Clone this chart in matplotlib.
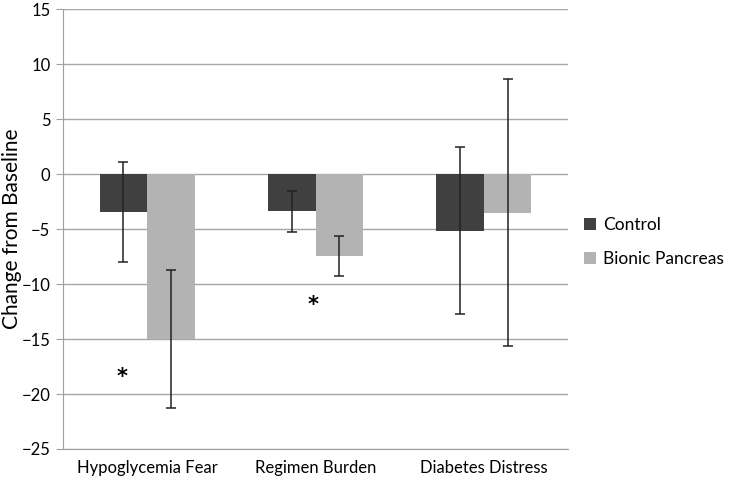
import numpy as np
import matplotlib.pyplot as plt

plt.rcParams['font.family'] = ['Lato', 'DejaVu Sans']

categories = ['Hypoglycemia Fear', 'Regimen Burden', 'Diabetes Distress']
series = ['Control', 'Bionic Pancreas']
control_mean = [-3.45, -3.4, -5.15]
control_err = [4.55, 1.83, 7.6]
bionic_mean = [-15.0, -7.45, -3.5]
bionic_err = [6.3, 1.85, 12.1]
colors = ['#404040', '#b3b3b3']

# significance markers: (x position, y value)
star_x = [-0.15, 0.985]
star_y = [-18.45, -11.9]

fig = plt.figure(figsize=(7.35, 4.8), dpi=100)
ax = fig.add_axes([0.0857, 0.0646, 0.6873, 0.9165])

x = np.arange(len(categories))
w = 0.282
ax.bar(x - w / 2, control_mean, w, color=colors[0], label=series[0], zorder=2)
ax.bar(x + w / 2, bionic_mean, w, color=colors[1], label=series[1], zorder=2)
ax.errorbar(x - w / 2, control_mean, yerr=control_err, fmt='none', ecolor='#222222',
            elinewidth=1.1, capsize=3.5, capthick=1.1, zorder=3)
ax.errorbar(x + w / 2, bionic_mean, yerr=bionic_err, fmt='none', ecolor='#222222',
            elinewidth=1.1, capsize=3.5, capthick=1.1, zorder=3)

for sx, sy in zip(star_x, star_y):
    ax.text(sx, sy, '*', ha='center', va='center', fontsize=15, fontweight='bold',
            color='black', family='DejaVu Sans')

ax.set_xlim(-0.5, 2.5)
ax.set_ylim(-25, 15)
ax.set_yticks(np.arange(-25, 16, 5))
ax.set_xticks(x)
ax.set_xticklabels(categories, fontsize=12)
ax.tick_params(axis='y', labelsize=12, length=5, color='#a0a0a0', pad=4)
ax.tick_params(axis='x', length=0, pad=8)
ax.yaxis.grid(True, color='#a6a6a6', linewidth=1, zorder=0)
ax.set_axisbelow(True)
for s in ['top', 'right']:
    ax.spines[s].set_visible(False)
ax.spines['left'].set_color('#a0a0a0')
ax.spines['bottom'].set_color('#a0a0a0')
ax.set_ylabel('Change from Baseline', fontsize=15)
ax.yaxis.set_label_coords(-0.082, 0.5)

ax.legend(loc='center left', bbox_to_anchor=(1.0, 0.47), frameon=False, fontsize=12.5,
          handlelength=0.7, handleheight=0.7, handletextpad=0.4, labelspacing=1.05)

plt.savefig('out.png', dpi=100)
plt.close()
